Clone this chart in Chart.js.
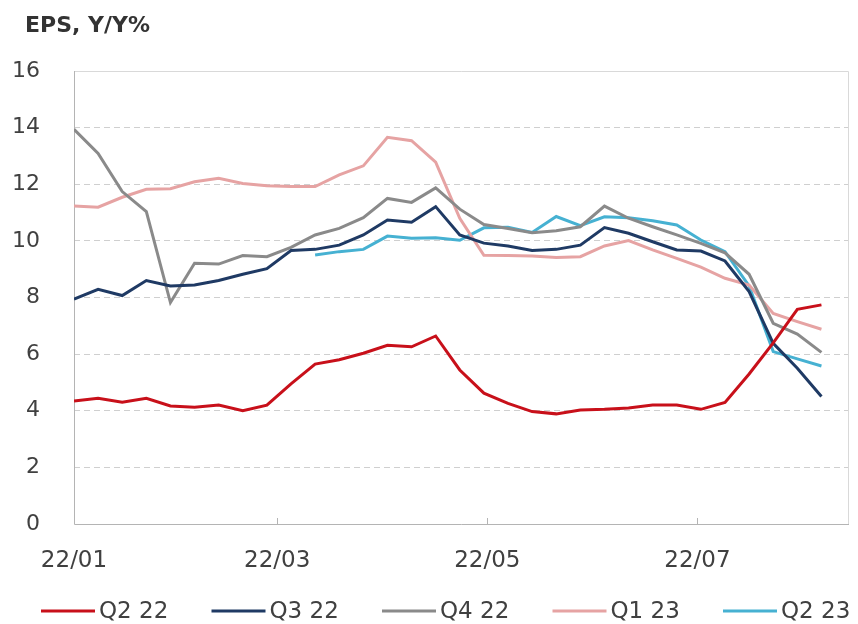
<!DOCTYPE html>
<html>
<head>
<meta charset="utf-8">
<script src="https://cdn.jsdelivr.net/npm/chart.js@4"></script>
<style>
  html, body { margin: 0; padding: 0; background: #fff; }
  canvas { display: block; }
</style>
</head>
<body>
<canvas id="epsChart" width="858" height="624"></canvas>
<script>
// weekly observation dates
const dates = [
  '2022-01-01', '2022-01-08', '2022-01-15', '2022-01-22', '2022-01-29',
  '2022-02-05', '2022-02-12', '2022-02-19', '2022-02-26',
  '2022-03-05', '2022-03-12', '2022-03-19', '2022-03-26',
  '2022-04-02', '2022-04-09', '2022-04-16', '2022-04-23', '2022-04-30',
  '2022-05-07', '2022-05-14', '2022-05-21', '2022-05-28',
  '2022-06-04', '2022-06-11', '2022-06-18', '2022-06-25',
  '2022-07-02', '2022-07-09', '2022-07-16', '2022-07-23', '2022-07-30',
  '2022-08-06'
];

const tickDates = ['2022-01-01', '2022-03-01', '2022-05-01', '2022-07-01'];
const tickLabels = ['22/01', '22/03', '22/05', '22/07'];

const q2_22 = [4.34, 4.44, 4.30, 4.44, 4.17, 4.12, 4.20, 4.00, 4.20, 4.95, 5.65, 5.80,
               6.03, 6.31, 6.26, 6.64, 5.44, 4.62, 4.26, 3.97, 3.89, 4.03, 4.05, 4.10,
               4.20, 4.20, 4.05, 4.29, 5.30, 6.40, 7.58, 7.74];
const q3_22 = [7.94, 8.29, 8.07, 8.60, 8.41, 8.44, 8.60, 8.82, 9.02, 9.66, 9.70, 9.85,
               10.21, 10.74, 10.66, 11.21, 10.21, 9.92, 9.82, 9.66, 9.70, 9.85, 10.47, 10.27,
               9.97, 9.68, 9.64, 9.29, 8.21, 6.38, 5.50, 4.50];
const q4_22 = [13.94, 13.09, 11.74, 11.03, 7.82, 9.21, 9.18, 9.48, 9.44, 9.77, 10.21, 10.44,
               10.82, 11.50, 11.36, 11.87, 11.12, 10.58, 10.44, 10.29, 10.36, 10.50, 11.23, 10.80,
               10.50, 10.21, 9.91, 9.58, 8.82, 7.09, 6.71, 6.06];
const q1_23 = [11.23, 11.19, 11.54, 11.82, 11.84, 12.09, 12.21, 12.03, 11.95, 11.92, 11.92, 12.33,
               12.65, 13.66, 13.54, 12.78, 10.80, 9.49, 9.48, 9.47, 9.41, 9.44, 9.82, 10.01,
               9.68, 9.38, 9.07, 8.68, 8.44, 7.44, 7.15, 6.88];
const q2_23 = [null, null, null, null, null, null, null, null, null, null, 9.50, 9.62,
               9.70, 10.17, 10.09, 10.11, 10.02, 10.46, 10.48, 10.30, 10.86, 10.54, 10.85, 10.82,
               10.71, 10.56, 10.03, 9.62, 8.41, 6.09, 5.83, 5.58];

const DAY = 24 * 3600 * 1000;
const start = Date.parse(dates[0]);
const dayOf = d => Math.round((Date.parse(d) - start) / DAY);
const xDays = dates.map(dayOf);
const tickDays = tickDates.map(dayOf);

const toPoints = vals => vals.map((v, i) => ({ x: xDays[i], y: v }));

const FONT = 'DejaVu Sans';
const TEXT = '#404040';

// title, plot frame, small inside tick marks and the legend row
const decor = {
  id: 'decor',
  beforeDatasetsDraw(chart) {
    const { ctx, chartArea: a, scales } = chart;
    ctx.save();
    ctx.lineWidth = 1;
    ctx.strokeStyle = '#d9d9d9';
    ctx.beginPath();
    ctx.moveTo(a.left, a.top + 0.5);
    ctx.lineTo(a.right - 0.5, a.top + 0.5);
    ctx.lineTo(a.right - 0.5, a.bottom);
    ctx.stroke();
    ctx.strokeStyle = '#b4b4b4';
    ctx.beginPath();
    ctx.moveTo(a.left + 0.5, a.top);
    ctx.lineTo(a.left + 0.5, a.bottom + 0.5);
    ctx.lineTo(a.right, a.bottom + 0.5);
    tickDays.forEach(d => {
      const px = Math.round(scales.x.getPixelForValue(d)) + 0.5;
      ctx.moveTo(px, a.bottom);
      ctx.lineTo(px, a.bottom - 6);
    });
    ctx.stroke();
    ctx.restore();
  },
  afterDraw(chart) {
    const ctx = chart.ctx;
    ctx.save();
    ctx.font = 'bold 22px "' + FONT + '"';
    ctx.fillStyle = '#333333';
    ctx.textBaseline = 'alphabetic';
    ctx.fillText('EPS, Y/Y%', 25, 32);

    // legend
    ctx.font = '23px "' + FONT + '"';
    ctx.textBaseline = 'middle';
    const y = 611;
    chart.data.datasets.forEach((ds, i) => {
      const x0 = 41 + 170.5 * i;
      ctx.strokeStyle = ds.borderColor;
      ctx.lineWidth = 3;
      ctx.beginPath();
      ctx.moveTo(x0, y);
      ctx.lineTo(x0 + 54, y);
      ctx.stroke();
      ctx.fillStyle = TEXT;
      ctx.fillText(ds.label, x0 + 58, y + 1);
    });
    ctx.restore();
  }
};

const mk = (label, vals, color) => ({
  label: label,
  data: toPoints(vals),
  borderColor: color,
  backgroundColor: color,
  borderWidth: 3,
  pointRadius: 0,
  tension: 0,
  fill: false
});

new Chart(document.getElementById('epsChart').getContext('2d'), {
  type: 'line',
  data: {
    datasets: [
      mk('Q2 22', q2_22, '#c8101a'),
      mk('Q3 22', q3_22, '#1f3a64'),
      mk('Q4 22', q4_22, '#8a8a8a'),
      mk('Q1 23', q1_23, '#e6a3a3'),
      mk('Q2 23', q2_23, '#46b1d2')
    ]
  },
  options: {
    responsive: false,
    animation: false,
    layout: { padding: { top: 71, right: 9, left: 0, bottom: 0 } },
    plugins: {
      tooltip: { enabled: false },
      legend: { display: false }
    },
    scales: {
      x: {
        type: 'linear',
        min: 0,
        max: 225,
        afterBuildTicks: s => { s.ticks = tickDays.map(v => ({ value: v })); },
        afterFit: s => { s.height = 100; },
        grid: { display: false },
        border: { display: false },
        ticks: {
          autoSkip: false,
          maxRotation: 0,
          padding: 15,
          color: TEXT,
          font: { family: FONT, size: 23 },
          callback: v => tickLabels[tickDays.indexOf(v)]
        }
      },
      y: {
        min: 0,
        max: 16,
        afterFit: s => { s.width = 74; },
        grid: {
          drawTicks: false,
          color: c => (c.tick && (c.tick.value === 0 || c.tick.value === 16)) ? 'rgba(0,0,0,0)' : '#cfcfcf'
        },
        border: { display: false, dash: [6, 4] },
        ticks: {
          stepSize: 2,
          padding: 34,
          color: TEXT,
          font: { family: FONT, size: 22 }
        }
      }
    }
  },
  plugins: [decor]
});
</script>
</body>
</html>
